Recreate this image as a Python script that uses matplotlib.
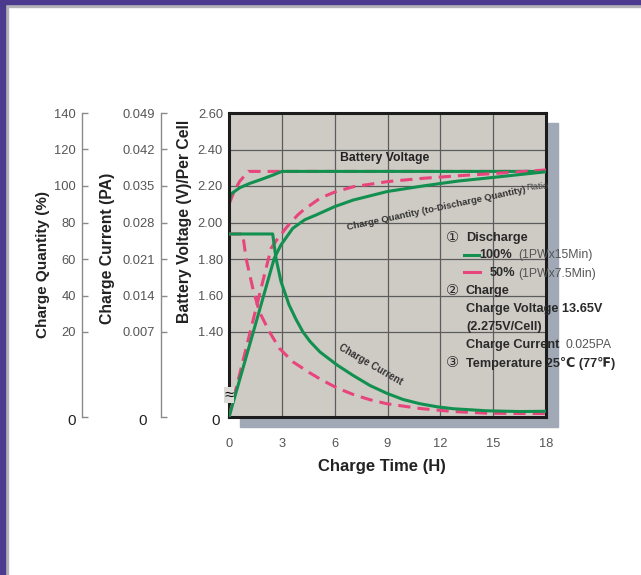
import numpy as np
import matplotlib
matplotlib.use('Agg')
import matplotlib.pyplot as plt
from matplotlib.patches import Rectangle
from matplotlib.lines import Line2D

# ---------------- data ----------------
time_v100 = [0, 0.1, 0.6, 1.2, 1.8, 2.5, 3.0, 18]
volt_100 = [2.10, 2.155, 2.19, 2.215, 2.235, 2.26, 2.28, 2.28]
time_v50 = [0, 0.25, 0.6, 1.1, 18]
volt_50 = [2.10, 2.16, 2.225, 2.28, 2.28]

time_q100 = [0, 1.38, 2.57, 2.95, 3.62, 4.3, 4.94, 6.0, 7.05, 9.0, 11.0, 13.0, 15.0, 18.0]
qty_100 = [0, 20, 60.4, 67.7, 76.8, 81.5, 84.1, 88.7, 92.3, 97, 100, 102.7, 104.7, 107.8]
time_q50 = [0, 1.2, 2.39, 2.71, 3.28, 3.9, 4.22, 5.17, 6.0, 7.06, 9.0, 11.0, 13.0, 15.0, 18.0]
qty_50 = [0, 20, 65.9, 70.4, 77.5, 84.1, 86.8, 93.3, 96.7, 99.6, 102.4, 104.2, 105.6, 106.8, 108.8]

time_i100 = [0, 2.48, 2.67, 2.95, 3.41, 3.81, 4.2, 4.6, 5.17, 6.14, 7.05, 8.01, 8.98,
             9.89, 10.85, 11.82, 12.73, 14.66, 16.53, 17.95]
curr_100 = [0.0258, 0.0258, 0.0211, 0.0167, 0.0122, 0.00939, 0.007, 0.00622,
            0.00535, 0.00428, 0.00342, 0.00259, 0.00194, 0.00144, 0.00109,
            0.00084, 0.00068, 0.00051, 0.00045, 0.00047]
time_i50 = [0, 0.78, 0.97, 1.35, 1.72, 2.29, 2.86, 3.62, 4.56, 5.17, 6.12, 7.06,
            8.01, 8.96, 10.85, 12.73, 14.66, 16.53, 17.95]
curr_50 = [0.0258, 0.0258, 0.0211, 0.0154, 0.0109, 0.00707, 0.00566, 0.00455,
           0.00366, 0.00313, 0.0024, 0.00185, 0.00142, 0.00109, 0.0007,
           0.00045, 0.00031, 0.00029, 0.00029]

x_ticks = [0, 3, 6, 9, 12, 15, 18]
volt_ticks = [1.2, 1.4, 1.6, 1.8, 2.0, 2.2, 2.4, 2.6]
volt_labels = ['', '1.40', '1.60', '1.80', '2.00', '2.20', '2.40', '2.60']
qty_ticks = [0, 20, 40, 60, 80, 100, 120, 140]
qty_labels = ['', '20', '40', '60', '80', '100', '120', '140']
curr_ticks = [0, 0.007, 0.014, 0.021, 0.028, 0.035, 0.042, 0.049]
curr_labels = ['', '0.007', '0.014', '0.021', '0.028', '0.035', '0.042', '0.049']

# ---------------- style ----------------
GREEN = '#11904f'
PINK = '#e8457c'
FONT = ['Liberation Sans', 'DejaVu Sans', 'Noto Sans CJK JP']
plt.rcParams['font.family'] = FONT

W, H = 641, 575
def fx(x): return x / W
def fy(y): return 1 - y / H

fig = plt.figure(figsize=(W / 100, H / 100), dpi=100)
fig.patch.set_facecolor('white')

# frame of the page
fig.patches.append(Rectangle((0, fy(7)), 1, 3 / H, transform=fig.transFigure,
                             color='#b4b4b8', zorder=-3))
fig.patches.append(Rectangle((0, fy(4)), 1, 4 / H, transform=fig.transFigure,
                             color='#4b3a8e', zorder=-2))
fig.patches.append(Rectangle((fx(5), 0), 3 / W, 1, transform=fig.transFigure,
                             color='#b4b4b8', zorder=-3))
fig.patches.append(Rectangle((0, 0), 5 / W, 1, transform=fig.transFigure,
                             color='#4b3a8e', zorder=-2))

# drop shadow of the plot box
fig.patches.append(Rectangle((fx(240), fy(427)), (558 - 240) / W, (427 - 123) / H,
                             transform=fig.transFigure, color='#a1a8b6', zorder=-1))

L, R, T, B = 229, 546, 113, 417
ax = fig.add_axes([fx(L), fy(B), (R - L) / W, (B - T) / H])
ax.set_facecolor('#cecbc5')

K = 85 / 36.5
def make_scale(off, unit):
    def fwd(v):
        q = (np.asarray(v, float) - off) / unit * 20
        return np.where(q >= 20, q, 20 - (20 - q) * K)
    def inv(d):
        d = np.asarray(d, float)
        q = np.where(d >= 20, d, 20 - (20 - d) / K)
        return q * unit / 20 + off
    return fwd, inv

ax.set_yscale('function', functions=make_scale(1.2, 0.2))
ax.set_ylim(1.2, 2.6)
ax.set_xlim(0, 18)
ax.set_xticks(x_ticks)
ax.set_xticklabels([str(v) for v in x_ticks])
ax.set_yticks(volt_ticks)
ax.set_yticklabels(volt_labels)
ax.grid(True, color='#5c5c5c', lw=0.9)
ax.set_axisbelow(True)
ax.tick_params(axis='x', length=0, pad=15, labelsize=9.3, labelcolor='#555555')
ax.tick_params(axis='y', length=0, pad=4.3, labelsize=9.3, labelcolor='#555555')
for s in ax.spines.values():
    s.set_linewidth(2.2)
    s.set_color('#1c1c1c')
    s.set_zorder(5)

# quantity axis
axq = ax.twinx()
axq.set_yscale('function', functions=make_scale(0, 20))
axq.set_ylim(0, 140)
# current axis
axi = ax.twinx()
axi.set_yscale('function', functions=make_scale(0, 0.007))
axi.set_ylim(0, 0.049)

for a, ticks, labels, off in [(axq, qty_ticks, qty_labels, 147),
                              (axi, curr_ticks, curr_labels, 68)]:
    a.yaxis.set_ticks_position('left')
    a.yaxis.set_label_position('left')
    for k in ['right', 'top', 'bottom']:
        a.spines[k].set_visible(False)
    a.spines['left'].set_visible(True)
    a.spines['left'].set_position(('outward', off * 0.72))
    a.spines['left'].set_color('#8a8a8a')
    a.spines['left'].set_linewidth(1.0)
    a.set_yticks(ticks)
    a.set_yticklabels(labels)
    a.tick_params(axis='y', direction='in', length=4.5, width=1.0, color='#8a8a8a',
                  pad=4.3, labelsize=9.3, labelcolor='#555555')

# curves: pink first, green on top
ax.plot(time_v50, volt_50, color=PINK, lw=2.2, dashes=(4, 2.3))
ax.plot(time_v100, volt_100, color=GREEN, lw=2.2)
axq.plot(time_q50, qty_50, color=PINK, lw=2.2, dashes=(4, 2.3))
axi.plot(time_i50, curr_50, color=PINK, lw=2.2, dashes=(4, 2.3))
axq.plot(time_q100, qty_100, color=GREEN, lw=2.2)
axi.plot(time_i100, curr_100, color=GREEN, lw=2.2)

# axis titles
DARK = '#222222'
fig.text(fx(43), fy(265), 'Charge Quantity (%)', rotation=90, ha='center', va='center',
         fontsize=11, fontweight='bold', color=DARK)
fig.text(fx(107), fy(248), 'Charge Current (PA)', rotation=90, ha='center', va='center',
         fontsize=11.3, fontweight='bold', color=DARK)
fig.text(fx(185), fy(221), 'Battery Voltage (V)/Per Cell', rotation=90, ha='center',
         va='center', fontsize=11.3, fontweight='bold', color=DARK)
fig.text(fx(382), fy(467), 'Charge Time (H)', ha='center', va='center',
         fontsize=12, fontweight='bold', color=DARK)

# zero labels at the broken bottom
for x in (72, 143, 216):
    fig.text(fx(x), fy(421), '0', ha='center', va='center', fontsize=11, color=DARK)
fig.text(fx(229), fy(395), '≈', ha='center', va='center', fontsize=12, color='#111111',
         bbox=dict(boxstyle='square,pad=0.05', fc='#dcdad6', ec='none'))

# in-chart annotations
fig.text(fx(385), fy(158), 'Battery Voltage', ha='center', va='center',
         fontsize=8.8, fontweight='bold', color=DARK)
fig.text(fx(436), fy(209), 'Charge Quantity (to-Discharge Quantity)', ha='center',
         va='center', rotation=12, rotation_mode='anchor', fontsize=6.8,
         fontweight='bold', color='#333333')
fig.text(fx(537), fy(187), 'Ratio', ha='center', va='center', rotation=4,
         rotation_mode='anchor', fontsize=6.8, color='#444444')
fig.text(fx(371), fy(365), 'Charge Current', ha='center', va='center', rotation=-30,
         rotation_mode='anchor', fontsize=7, fontweight='bold', color='#333333')

# legend block
def t(x, y, s, bold=True, size=9.2, color='#2a2a2a'):
    fig.text(fx(x), fy(y), s, ha='left', va='center', fontsize=size,
             fontweight='bold' if bold else 'normal', color=color)

LIGHT = '#555555'
t(446, 238, '①', bold=False, size=10.5)
t(466, 238, 'Discharge')
fig.add_artist(Line2D([fx(464), fx(479)], [fy(254.5), fy(254.5)], color=GREEN, lw=2.2))
t(479, 255.5, '100%')
t(518, 255.5, '(1PWx15Min)', bold=False, size=8.8, color=LIGHT)
fig.add_artist(Line2D([fx(464), fx(480)], [fy(272), fy(272)], color=PINK, lw=2.2))
t(490, 273.5, '50%')
t(518, 273.5, '(1PWx7.5Min)', bold=False, size=8.8, color=LIGHT)
t(446, 291, '②', bold=False, size=10.5)
t(466, 291, 'Charge')
t(466, 309, 'Charge Voltage 13.65V')
t(466, 327, '(2.275V/Cell)')
t(466, 345, 'Charge Current')
t(565, 345, '0.025PA', bold=False, size=8.8, color=LIGHT)
t(446, 363, '③', bold=False, size=10.5)
t(466, 363, 'Temperature 25℃ (77℉)')

fig.savefig('out.png', dpi=100)
